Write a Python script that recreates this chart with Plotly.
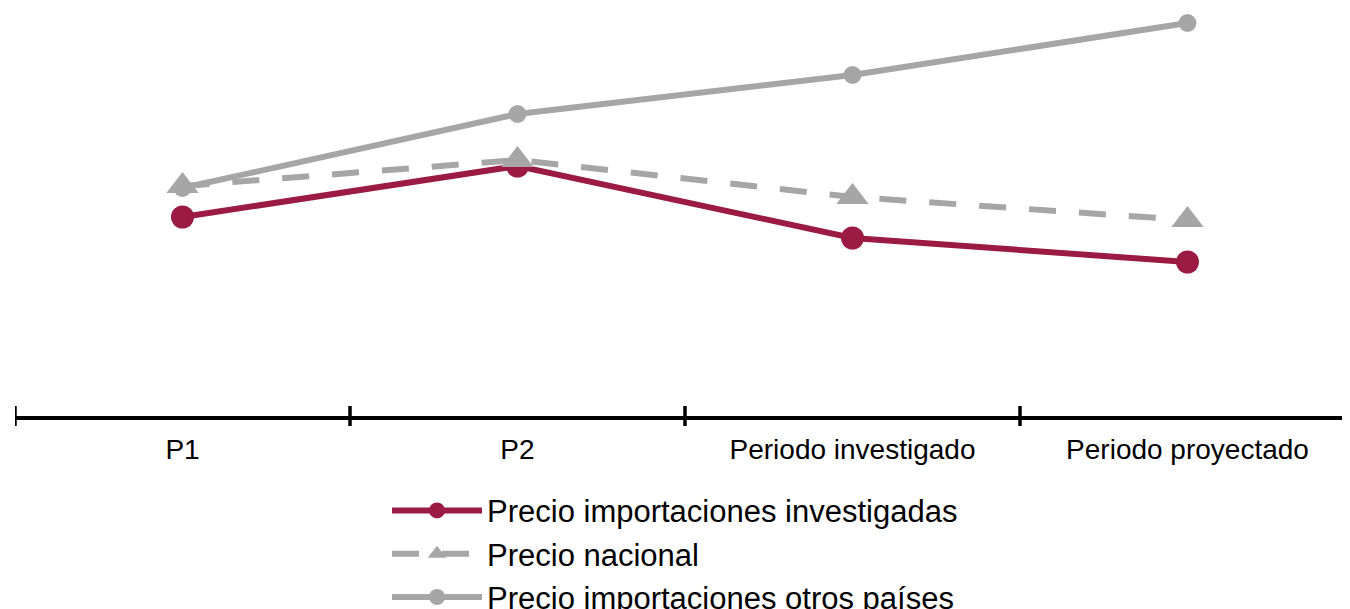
import plotly.graph_objects as go

categories = ["P1", "P2", "Periodo investigado", "Periodo proyectado"]
precio_investigadas = [1.99, 2.50, 1.78, 1.54]
precio_nacional = [2.30, 2.56, 2.19, 1.96]
precio_otros = [2.28, 3.02, 3.41, 3.93]

RED = "#9B1B45"
GRAY = "#A6A6A6"
FONT = "Liberation Sans, Arial, sans-serif"

fig = go.Figure()
fig.add_trace(go.Scatter(
    x=categories, y=precio_otros, name="Precio importaciones otros países",
    mode="lines+markers", line=dict(color=GRAY, width=6),
    marker=dict(symbol="circle", size=18, color=GRAY), legendrank=3))
fig.add_trace(go.Scatter(
    x=categories, y=precio_investigadas, name="Precio importaciones investigadas",
    mode="lines+markers", line=dict(color=RED, width=6),
    marker=dict(symbol="circle", size=23, color=RED), legendrank=1))
fig.add_trace(go.Scatter(
    x=categories, y=precio_nacional, name="Precio nacional",
    mode="lines+markers", line=dict(color=GRAY, width=6, dash="27px,23px"),
    marker=dict(symbol="triangle-up", size=28, color=GRAY), legendrank=2))

# crossing tick marks at category boundaries
for i in range(len(categories) + 1):
    fig.add_shape(type="line", xref="x", yref="paper", x0=i - 0.5, x1=i - 0.5,
                  ysizemode="pixel", yanchor=0, y0=-10, y1=10,
                  line=dict(color="black", width=3.5))

fig.update_layout(
    width=1350, height=609,
    margin=dict(l=7, r=0, t=0, b=201, autoexpand=False),
    paper_bgcolor="white", plot_bgcolor="white",
    font=dict(family=FONT, color="black"),
    showlegend=True,
    legend=dict(x=0.277, y=-0.166, xanchor="left", yanchor="top",
                font=dict(size=31, family=FONT, color="black"),
                itemwidth=90, tracegroupgap=0, bgcolor="rgba(0,0,0,0)"),
    xaxis=dict(type="category", range=[-0.5, 3.509], showgrid=False, zeroline=False,
               showline=True, linecolor="black", linewidth=3.5,
               ticks="", tickfont=dict(size=28, family=FONT, color="black"),
               ticklabelstandoff=6),
    yaxis=dict(range=[0, 4.08], visible=False, showgrid=False, zeroline=False),
)

fig.write_html("out.html")
